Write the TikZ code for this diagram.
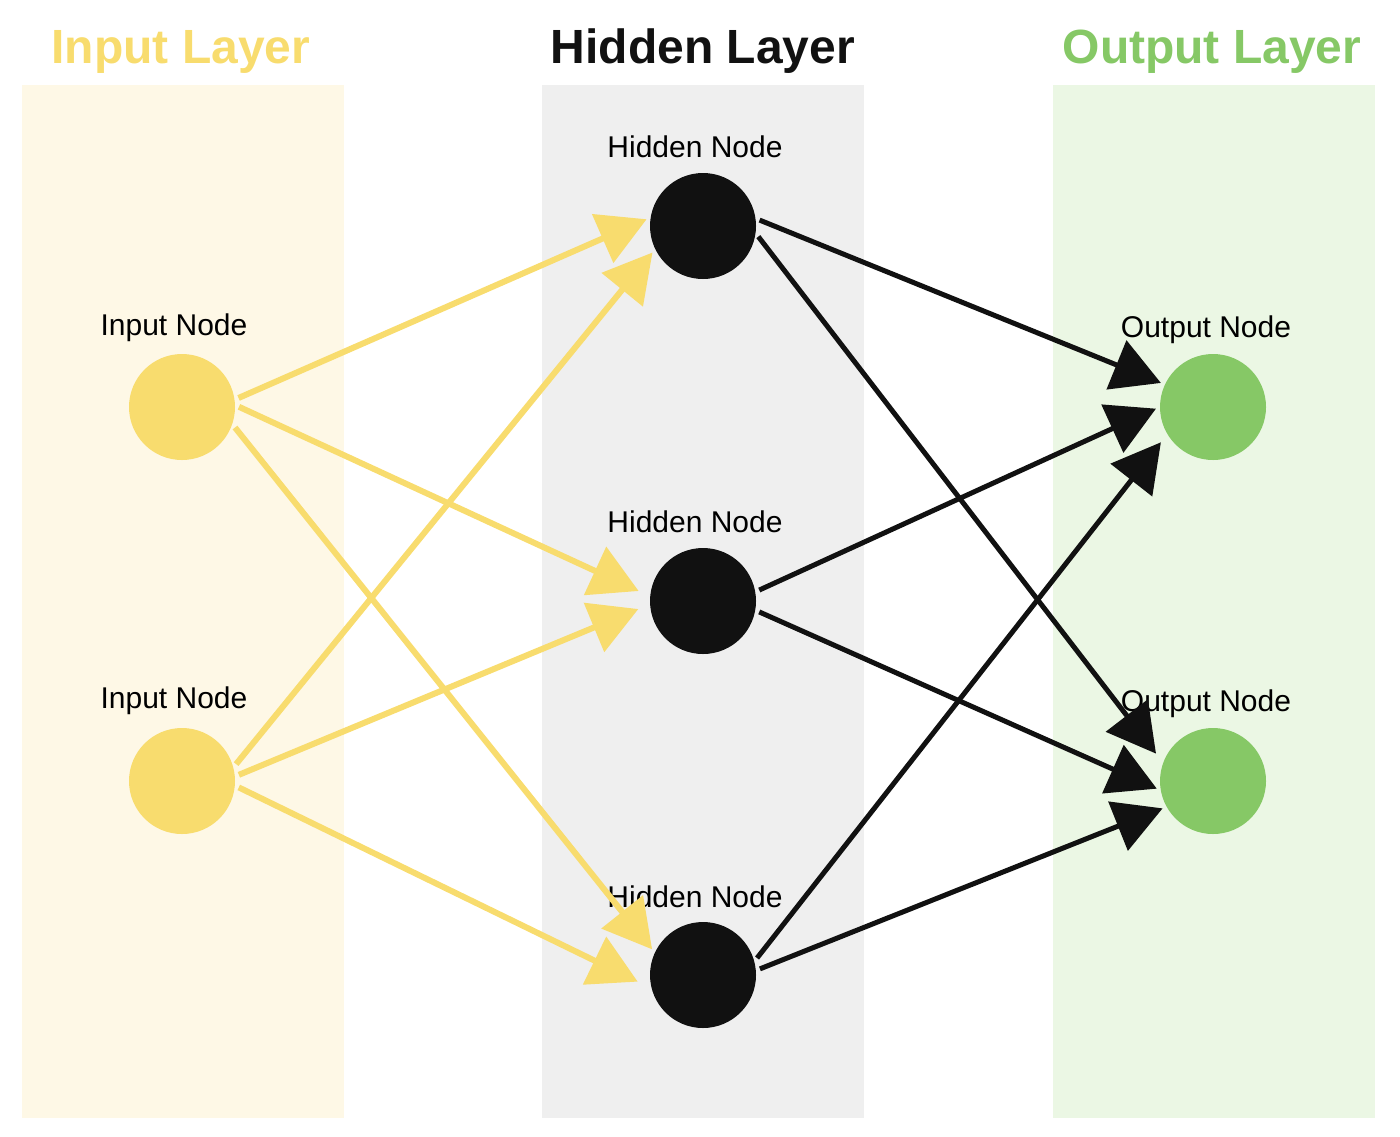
\documentclass[tikz,border=0pt]{standalone}
\usepackage{fontspec}
\setmainfont{Liberation Sans}
\usepackage{xcolor}
\usetikzlibrary{arrows.meta}

\definecolor{inYellow}{RGB}{248,220,110}
\definecolor{inBand}{RGB}{254,248,230}
\definecolor{hidBlack}{RGB}{17,17,17}
\definecolor{hidBand}{RGB}{239,239,239}
\definecolor{outGreen}{RGB}{134,200,102}
\definecolor{outBand}{RGB}{235,247,228}

\begin{document}
\begin{tikzpicture}[x=0.5pt,y=0.5pt,yscale=-1,xscale=1,
  band/.style={draw=none},
  neuron/.style={circle,draw=none,inner sep=0pt,minimum size=53pt},
  title/.style={anchor=base,inner sep=0.75pt,font=\fontsize{24}{28}\selectfont\bfseries},
  nodetext/.style={anchor=base,inner sep=0.75pt,font=\fontsize{15}{18}\selectfont},
  inedge/.style={draw=inYellow,line width=3pt,shorten <=2pt,shorten >=2pt,-{Triangle[length=24pt,width=26pt]}},
  outedge/.style={draw=hidBlack,line width=2.5pt,shorten <=2pt,shorten >=2pt,-{Triangle[length=24pt,width=26pt]}}]
\useasboundingbox (0,0) rectangle (1400,1136);

%Shape: Rectangle [input band]
\fill[band,inBand] (22,85) rectangle (344,1118);
%Shape: Rectangle [hidden band]
\fill[band,hidBand] (542,85) rectangle (864,1118);
%Shape: Rectangle [output band]
\fill[band,outBand] (1053,85) rectangle (1375,1118);

% Text Node
\node[title,text=inYellow] (inTitle) at (181,63) {Input Layer};
% Text Node
\node[title,text=hidBlack] (hidTitle) at (703,63) {Hidden Layer};
% Text Node
\node[title,text=outGreen] (outTitle) at (1212,63) {Output Layer};

%Shape: Circle
\node[neuron,fill=inYellow] (in1) at (182,407) {};
\node[neuron,fill=inYellow] (in2) at (182,781) {};
%Shape: Circle
\node[neuron,fill=hidBlack] (hid1) at (703,226) {};
\node[neuron,fill=hidBlack] (hid2) at (703,601) {};
\node[neuron,fill=hidBlack] (hid3) at (703,975) {};
%Shape: Circle
\node[neuron,fill=outGreen] (out1) at (1213,407) {};
\node[neuron,fill=outGreen] (out2) at (1213,781) {};

% Text Node
\node[nodetext] (in1Text) at (174,335) {Input Node};
% Text Node
\node[nodetext] (in2Text) at (174,708) {Input Node};
% Text Node
\node[nodetext] (hid1Text) at (695,157) {Hidden Node};
% Text Node
\node[nodetext] (hid2Text) at (695,532) {Hidden Node};
% Text Node
\node[nodetext] (hid3Text) at (695,907) {Hidden Node};
% Text Node
\node[nodetext] (out1Text) at (1206,337) {Output Node};
% Text Node
\node[nodetext] (out2Text) at (1206,711) {Output Node};

%Straight Lines [input -> hidden]
\draw[inedge] (in1.8) -- (hid1.171);
\draw[inedge] (in1.2) -- ([shift={(-8,0)}]hid2.171);
\draw[inedge] (in1.-19) -- (hid3.155);
\draw[inedge] (in2.15) -- (hid1.206);
\draw[inedge] (in2.5) -- ([shift={(-8,0)}]hid2.187);
\draw[inedge] (in2.-5) -- ([shift={(-9,0)}]hid3.189);
%Straight Lines [hidden -> output]
\draw[outedge] (hid1.8) -- (out1.155);
\draw[outedge] (hid1.-8) -- ([shift={(-7,0)}]out2.153);
\draw[outedge] (hid2.10) -- (out1.180);
\draw[outedge] (hid2.-10) -- (out2.190);
\draw[outedge] (hid3.15) -- ([shift={(-7,0)}]out1.217);
\draw[outedge] (hid3.5) -- (out2.209);

\end{tikzpicture}
\end{document}
